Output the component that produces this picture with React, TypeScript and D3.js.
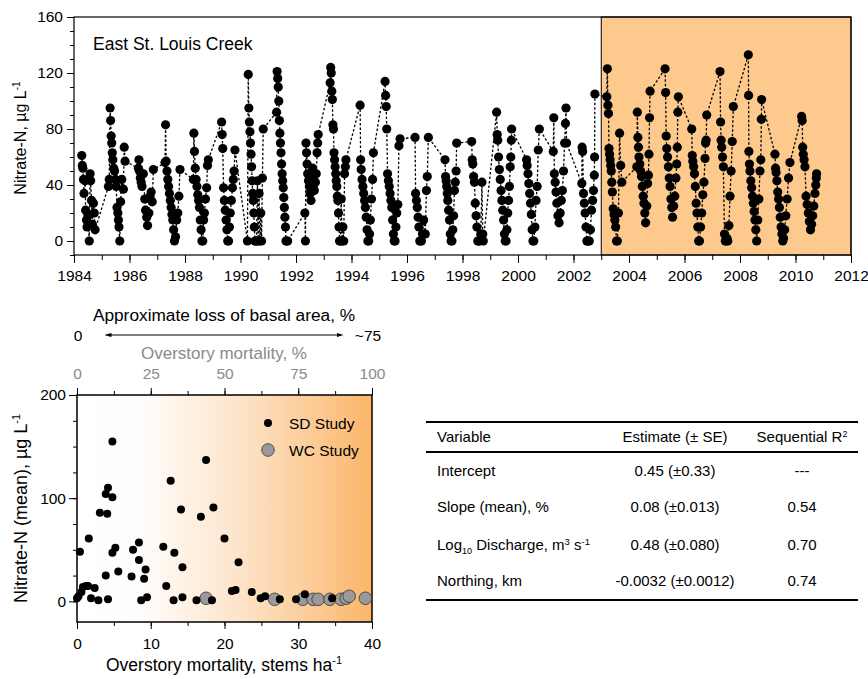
import * as d3 from "d3";
import React, { useRef, useEffect } from "react";

const FONT = '"Liberation Sans", Arial, Helvetica, sans-serif';

// East St. Louis Creek samples: [decimal year, nitrate-N ug/L]
const creekSamples: [number, number][] = [
  [1984.28, 61], [1984.30, 54], [1984.32, 52], [1984.34, 44], [1984.36, 34], [1984.40, 43], [1984.42, 22], [1984.45, 15], [1984.47, 10], [1984.50, 18], [1984.55, 0], [1984.58, 48], [1984.60, 43], [1984.63, 29], [1984.66, 12], [1984.70, 27], [1984.73, 20], [1984.76, 8],
  [1985.24, 39], [1985.27, 44], [1985.30, 95], [1985.32, 86], [1985.34, 75], [1985.36, 70], [1985.38, 63], [1985.40, 58], [1985.43, 52], [1985.46, 50], [1985.49, 44], [1985.52, 39], [1985.55, 24], [1985.58, 20], [1985.60, 15], [1985.62, 10], [1985.65, 0], [1985.68, 28], [1985.72, 44], [1985.78, 37], [1985.81, 67], [1985.84, 57],
  [1986.32, 52], [1986.34, 58], [1986.36, 50], [1986.39, 45], [1986.42, 42], [1986.45, 39], [1986.50, 48], [1986.55, 30], [1986.58, 22], [1986.62, 17], [1986.65, 11], [1986.70, 20], [1986.74, 32], [1986.78, 35], [1986.82, 28], [1986.86, 51],
  [1987.28, 56], [1987.30, 83], [1987.32, 57], [1987.35, 50], [1987.38, 44], [1987.41, 39], [1987.44, 34], [1987.47, 29], [1987.50, 24], [1987.53, 19], [1987.56, 15], [1987.59, 8], [1987.62, 0], [1987.66, 3], [1987.70, 15], [1987.74, 20], [1987.78, 32], [1987.82, 51],
  [1988.30, 44], [1988.32, 77], [1988.34, 64], [1988.37, 52], [1988.40, 44], [1988.43, 39], [1988.46, 33], [1988.49, 29], [1988.52, 24], [1988.55, 15], [1988.58, 8], [1988.61, 0], [1988.64, 0], [1988.67, 15], [1988.70, 20], [1988.74, 30], [1988.78, 38], [1988.81, 54], [1988.84, 58],
  [1989.32, 85], [1989.34, 76], [1989.36, 66], [1989.39, 38], [1989.42, 29], [1989.45, 22], [1989.48, 15], [1989.51, 8], [1989.54, 0], [1989.57, 0], [1989.60, 10], [1989.63, 20], [1989.67, 29], [1989.71, 38], [1989.74, 44], [1989.77, 50], [1989.80, 65],
  [1990.25, 0], [1990.28, 119], [1990.30, 95], [1990.32, 85], [1990.34, 78], [1990.36, 70], [1990.38, 62], [1990.40, 53], [1990.42, 43], [1990.44, 34], [1990.46, 29], [1990.48, 20], [1990.50, 10], [1990.52, 0], [1990.55, 0], [1990.58, 0], [1990.61, 43], [1990.64, 0], [1990.67, 34], [1990.70, 0], [1990.73, 20], [1990.76, 0], [1990.79, 45], [1990.82, 80],
  [1991.30, 92], [1991.32, 121], [1991.34, 116], [1991.36, 110], [1991.38, 100], [1991.40, 86], [1991.42, 77], [1991.44, 70], [1991.46, 63], [1991.48, 55], [1991.50, 48], [1991.52, 43], [1991.54, 38], [1991.56, 31], [1991.58, 24], [1991.60, 17], [1991.62, 10], [1991.64, 0], [1991.66, 0], [1991.70, 0],
  [1992.32, 20], [1992.34, 0], [1992.36, 70], [1992.38, 63], [1992.40, 55], [1992.42, 48], [1992.45, 43], [1992.48, 39], [1992.51, 34], [1992.54, 29], [1992.57, 46], [1992.60, 52], [1992.63, 40], [1992.66, 36], [1992.70, 42], [1992.73, 48], [1992.76, 63], [1992.78, 70], [1992.80, 76],
  [1993.23, 113], [1993.25, 124], [1993.27, 120], [1993.29, 107], [1993.31, 101], [1993.33, 83], [1993.35, 80], [1993.37, 63], [1993.39, 58], [1993.41, 53], [1993.43, 48], [1993.45, 43], [1993.47, 39], [1993.49, 32], [1993.51, 29], [1993.53, 20], [1993.55, 10], [1993.57, 0], [1993.60, 0], [1993.63, 30], [1993.66, 0], [1993.69, 10], [1993.72, 0], [1993.75, 48], [1993.78, 53], [1993.80, 58],
  [1994.31, 97], [1994.33, 58], [1994.35, 51], [1994.38, 44], [1994.41, 39], [1994.44, 34], [1994.47, 29], [1994.50, 24], [1994.53, 17], [1994.56, 8], [1994.59, 0], [1994.62, 0], [1994.65, 5], [1994.68, 15], [1994.72, 30], [1994.76, 44], [1994.79, 63],
  [1995.21, 114], [1995.23, 104], [1995.25, 96], [1995.27, 80], [1995.30, 48], [1995.33, 43], [1995.36, 39], [1995.39, 34], [1995.42, 29], [1995.45, 24], [1995.48, 15], [1995.51, 5], [1995.54, 0], [1995.57, 0], [1995.60, 10], [1995.63, 20], [1995.67, 26], [1995.71, 68], [1995.75, 73],
  [1996.29, 74], [1996.31, 34], [1996.34, 29], [1996.37, 24], [1996.40, 17], [1996.43, 10], [1996.46, 0], [1996.49, 0], [1996.52, 0], [1996.56, 5], [1996.60, 15], [1996.66, 5], [1996.70, 36], [1996.73, 46], [1996.77, 74],
  [1997.37, 58], [1997.39, 46], [1997.41, 43], [1997.43, 39], [1997.45, 34], [1997.47, 29], [1997.50, 22], [1997.53, 15], [1997.56, 5], [1997.59, 0], [1997.62, 0], [1997.65, 8], [1997.68, 18], [1997.71, 36], [1997.74, 42], [1997.77, 50], [1997.79, 70],
  [1998.33, 71], [1998.35, 58], [1998.37, 55], [1998.40, 46], [1998.43, 42], [1998.46, 27], [1998.49, 18], [1998.52, 10], [1998.55, 0], [1998.58, 0], [1998.62, 0], [1998.66, 5], [1998.70, 42], [1998.73, 5], [1998.75, 0],
  [1999.23, 92], [1999.25, 76], [1999.27, 72], [1999.30, 60], [1999.33, 51], [1999.36, 44], [1999.39, 36], [1999.42, 29], [1999.45, 22], [1999.48, 15], [1999.51, 5], [1999.54, 0], [1999.57, 0], [1999.60, 8], [1999.63, 20], [1999.66, 29], [1999.69, 39], [1999.72, 53], [1999.74, 60], [1999.76, 72], [1999.77, 80],
  [2000.31, 58], [2000.33, 54], [2000.36, 48], [2000.39, 41], [2000.42, 34], [2000.45, 27], [2000.48, 19], [2000.51, 8], [2000.54, 0], [2000.57, 0], [2000.61, 10], [2000.65, 29], [2000.69, 39], [2000.73, 65], [2000.77, 80],
  [2001.27, 64], [2001.29, 88], [2001.31, 48], [2001.34, 42], [2001.37, 35], [2001.40, 27], [2001.44, 18], [2001.48, 13], [2001.52, 20], [2001.56, 29], [2001.60, 36], [2001.64, 50], [2001.68, 70], [2001.71, 84], [2001.73, 95], [2001.75, 70],
  [2002.30, 41], [2002.31, 67], [2002.33, 64], [2002.36, 34], [2002.39, 27], [2002.42, 20], [2002.45, 10], [2002.48, 0], [2002.51, 0], [2002.54, 0], [2002.57, 0], [2002.61, 8], [2002.65, 22], [2002.69, 29], [2002.72, 36], [2002.75, 47], [2002.76, 60], [2002.77, 105],
  [2003.20, 103], [2003.22, 123], [2003.24, 97], [2003.26, 91], [2003.28, 66], [2003.30, 62], [2003.32, 58], [2003.34, 54], [2003.36, 50], [2003.38, 42], [2003.40, 35], [2003.43, 23], [2003.46, 19], [2003.49, 15], [2003.52, 10], [2003.55, 0], [2003.58, 0], [2003.62, 20], [2003.66, 77], [2003.70, 54], [2003.74, 42],
  [2004.28, 53], [2004.30, 92], [2004.32, 74], [2004.34, 67], [2004.36, 60], [2004.39, 55], [2004.42, 50], [2004.45, 46], [2004.48, 39], [2004.51, 32], [2004.54, 27], [2004.57, 20], [2004.60, 13], [2004.64, 25], [2004.67, 41], [2004.70, 47], [2004.72, 62], [2004.74, 88], [2004.76, 107],
  [2005.30, 123], [2005.32, 106], [2005.34, 75], [2005.36, 66], [2005.39, 60], [2005.42, 53], [2005.45, 45], [2005.48, 39], [2005.51, 30], [2005.54, 24], [2005.57, 17], [2005.61, 25], [2005.65, 32], [2005.69, 45], [2005.72, 55], [2005.74, 67], [2005.76, 92], [2005.78, 103],
  [2006.26, 80], [2006.28, 61], [2006.30, 57], [2006.33, 53], [2006.36, 48], [2006.39, 39], [2006.42, 27], [2006.45, 20], [2006.48, 10], [2006.51, 0], [2006.54, 0], [2006.58, 10], [2006.62, 20], [2006.66, 33], [2006.70, 42], [2006.74, 59], [2006.76, 70], [2006.78, 72], [2006.80, 90],
  [2007.28, 121], [2007.30, 85], [2007.32, 72], [2007.34, 67], [2007.37, 60], [2007.40, 53], [2007.44, 5], [2007.47, 0], [2007.50, 0], [2007.53, 2], [2007.56, 0], [2007.60, 11], [2007.64, 32], [2007.68, 50], [2007.72, 71], [2007.76, 96],
  [2008.30, 133], [2008.31, 104], [2008.32, 64], [2008.34, 55], [2008.36, 50], [2008.39, 43], [2008.42, 38], [2008.45, 32], [2008.48, 27], [2008.51, 21], [2008.54, 15], [2008.57, 8], [2008.60, 0], [2008.64, 15], [2008.68, 30], [2008.72, 50], [2008.75, 58], [2008.77, 87], [2008.78, 101],
  [2009.26, 62], [2009.28, 52], [2009.30, 49], [2009.33, 43], [2009.36, 35], [2009.39, 30], [2009.42, 24], [2009.45, 17], [2009.48, 10], [2009.51, 5], [2009.54, 0], [2009.57, 2], [2009.61, 8], [2009.65, 18], [2009.70, 30], [2009.75, 45], [2009.80, 56],
  [2010.22, 89], [2010.24, 86], [2010.26, 67], [2010.28, 62], [2010.31, 58], [2010.34, 53], [2010.38, 32], [2010.42, 26], [2010.46, 20], [2010.50, 14], [2010.54, 8], [2010.58, 12], [2010.62, 18], [2010.66, 25], [2010.70, 34], [2010.73, 40], [2010.75, 45], [2010.76, 48],
];

const disturbanceStart = 2003;

// bottom panel: overstory mortality (stems/ha) vs mean nitrate-N
const sdMortality = [0, 0.2, 0.4, 0.6, 0.8, 1.2, 1.5, 1.6, 1.9, 2.4, 2.9, 3.1, 3.9, 3.9, 4.1, 4.2, 4.2, 4.8, 4.8, 4.8, 5.2, 5.6, 7.4, 7.6, 8.4, 8.4, 8.7, 9.1, 9.3, 9.5, 11.7, 12.1, 12.7, 13.2, 13.1, 14.1, 14.3, 14.3, 16.2, 16.8, 17.5, 18.3, 18.5, 20.0, 21.0, 21.5, 21.9, 23.7, 24.9, 25.5, 27.5, 29.7, 30.9, 34.6];
const sdNitrate = [3, 5, 48, 9, 14, 15, 15, 61, 3, 13, 1, 86, 25, 104, 85, 110, 2, 101, 155, 47, 52, 29, 24, 50, 57, 40, 1, 22, 31, 4, 53, 15, 117, 47, 1, 89, 33, 4, 1, 82, 137, 1, 91, 61, 10, 11, 38, 9, 3, 5, 2, 2, 7, 3];
const wcMortality = [17.5, 26.8, 30.6, 32.0, 32.7, 34.3, 35.8, 36.5, 36.9, 39.1];
const wcNitrate = [3, 2, 2, 2, 2, 2, 2, 3, 5, 3];

// regression table
const tableHeader = ["Variable", "Estimate (\u00b1 SE)", "Sequential R"];
const tableVariables = ["Intercept", "Slope (mean), %", "Log10 Discharge", "Northing, km"];
const tableEstimates = ["0.45 (\u00b10.33)", "0.08 (\u00b10.013)", "0.48 (\u00b10.080)", "-0.0032 (\u00b10.0012)"];
const tableR2 = ["---", "0.54", "0.70", "0.74"];

const App: React.FC = () => {
  const svgRef = useRef<SVGSVGElement | null>(null);

  useEffect(() => {
    const svg = d3.select(svgRef.current);
    svg.selectAll("*").remove();
    svg.append("rect").attr("width", 868).attr("height", 679).attr("fill", "#fff");

    const styleAxis = (g: any, size = 15, color = "#000") => {
      g.selectAll(".domain").remove();
      g.selectAll("line").attr("stroke", "#000").attr("stroke-width", 1);
      g.selectAll("text").attr("font-family", FONT).attr("font-size", size).attr("fill", color);
    };

    // ---------- top panel ----------
    const x = d3.scaleLinear().domain([1984, 2012]).range([74, 851]);
    const y = d3.scaleLinear().domain([-10, 160]).range([255, 17]);
    const top = svg.append("g");

    top.append("rect")
      .attr("x", x(disturbanceStart)).attr("y", y(160))
      .attr("width", x(2012) - x(disturbanceStart)).attr("height", y(-10) - y(160))
      .attr("fill", "#fdc98d").attr("stroke", "#000").attr("stroke-width", 1);

    top.append("g").attr("transform", `translate(0,${y(-10)})`)
      .call(d3.axisBottom(x).tickValues(d3.range(1984, 2013, 1)).tickSize(5).tickFormat(() => ""))
      .call((g: any) => styleAxis(g));
    top.append("g").attr("transform", `translate(0,${y(-10)})`)
      .call(d3.axisBottom(x).tickValues(d3.range(1984, 2013, 2)).tickSize(8).tickPadding(7).tickFormat(d3.format("d")))
      .call((g: any) => styleAxis(g, 15.5));
    top.append("g").attr("transform", `translate(${x(1984)},0)`)
      .call(d3.axisLeft(y).tickValues(d3.range(-10, 161, 10)).tickSize(4).tickFormat(() => ""))
      .call((g: any) => styleAxis(g));
    top.append("g").attr("transform", `translate(${x(1984)},0)`)
      .call(d3.axisLeft(y).tickValues(d3.range(0, 161, 40)).tickSize(7).tickPadding(4))
      .call((g: any) => styleAxis(g, 15.5));

    top.append("rect")
      .attr("x", x(1984)).attr("y", y(160))
      .attr("width", x(2012) - x(1984)).attr("height", y(-10) - y(160))
      .attr("fill", "none").attr("stroke", "#000").attr("stroke-width", 1.2);

    const line = d3.line<[number, number]>().x(d => x(d[0])).y(d => y(d[1]));
    top.append("path").datum(creekSamples)
      .attr("d", line).attr("fill", "none")
      .attr("stroke", "#000").attr("stroke-width", 1.3).attr("stroke-dasharray", "2.5,2");
    top.append("g").selectAll("circle").data(creekSamples).enter().append("circle")
      .attr("cx", d => x(d[0])).attr("cy", d => y(d[1])).attr("r", 4.6).attr("fill", "#000");

    top.append("text").attr("x", 93).attr("y", 50)
      .attr("font-family", FONT).attr("font-size", 17.5).text("East St. Louis Creek");

    const yl = top.append("text")
      .attr("transform", `translate(26,${(y(160) + y(-10)) / 2 + 2}) rotate(-90)`)
      .attr("text-anchor", "middle").attr("font-family", FONT).attr("font-size", 16);
    yl.append("tspan").text("Nitrate-N, \u00b5g L");
    yl.append("tspan").attr("dy", -6).attr("font-size", 10).text("-1");

    // ---------- bottom panel ----------
    const bx = d3.scaleLinear().domain([0, 40]).range([77, 372]);
    const bxTop = d3.scaleLinear().domain([0, 100]).range([77, 372]);
    const by = d3.scaleLinear().domain([-20, 200]).range([622, 395]);
    const bot = svg.append("g");

    const defs = svg.append("defs");
    const grad = defs.append("linearGradient").attr("id", "mortGrad")
      .attr("x1", "0%").attr("x2", "100%").attr("y1", "0%").attr("y2", "0%");
    grad.append("stop").attr("offset", "0%").attr("stop-color", "#ffffff");
    grad.append("stop").attr("offset", "22%").attr("stop-color", "#fffdfb");
    grad.append("stop").attr("offset", "55%").attr("stop-color", "#fde4ca");
    grad.append("stop").attr("offset", "80%").attr("stop-color", "#fccb95");
    grad.append("stop").attr("offset", "100%").attr("stop-color", "#fbb568");

    const marker = (id: string, path: string) => defs.append("marker").attr("id", id)
      .attr("viewBox", "0 0 10 10").attr("refX", 5).attr("refY", 5)
      .attr("markerWidth", 7).attr("markerHeight", 7).attr("orient", "auto")
      .append("path").attr("d", path).attr("fill", "#000");
    marker("arrowEnd", "M0,2 L10,5 L0,8 Z");
    marker("arrowStart", "M10,2 L0,5 L10,8 Z");

    bot.append("rect")
      .attr("x", bx(0)).attr("y", by(200))
      .attr("width", bx(40) - bx(0)).attr("height", by(-20) - by(200))
      .attr("fill", "url(#mortGrad)");

    bot.append("g").attr("transform", `translate(0,${by(-20)})`)
      .call(d3.axisBottom(bx).tickValues(d3.range(0, 41, 5)).tickSize(4).tickFormat(() => ""))
      .call((g: any) => styleAxis(g));
    bot.append("g").attr("transform", `translate(0,${by(-20)})`)
      .call(d3.axisBottom(bx).tickValues(d3.range(0, 41, 10)).tickSize(7).tickPadding(9))
      .call((g: any) => styleAxis(g, 15.5));
    bot.append("g").attr("transform", `translate(${bx(0)},0)`)
      .call(d3.axisLeft(by).tickValues(d3.range(0, 201, 25)).tickSize(4).tickFormat(() => ""))
      .call((g: any) => styleAxis(g));
    bot.append("g").attr("transform", `translate(${bx(0)},0)`)
      .call(d3.axisLeft(by).tickValues([0, 100, 200]).tickSize(8).tickPadding(3))
      .call((g: any) => styleAxis(g, 15.5));
    bot.append("g").attr("transform", `translate(0,${by(200)})`)
      .call(d3.axisTop(bxTop).tickValues(d3.range(0, 101, 12.5)).tickSize(4).tickFormat(() => ""))
      .call((g: any) => styleAxis(g));
    bot.append("g").attr("transform", `translate(0,${by(200)})`)
      .call(d3.axisTop(bxTop).tickValues(d3.range(0, 101, 25)).tickSize(7).tickPadding(9))
      .call((g: any) => styleAxis(g, 15.5, "#8a8a8a"));

    bot.append("rect")
      .attr("x", bx(0)).attr("y", by(200))
      .attr("width", bx(40) - bx(0)).attr("height", by(-20) - by(200))
      .attr("fill", "none").attr("stroke", "#000").attr("stroke-width", 1.5);

    bot.append("g").selectAll("circle").data(wcMortality).enter().append("circle")
      .attr("cx", (d: number) => bx(d)).attr("cy", (_: number, i: number) => by(wcNitrate[i]))
      .attr("r", 6.3).attr("fill", "#9a9a9a").attr("stroke", "#333").attr("stroke-width", 0.8);
    bot.append("g").selectAll("circle").data(sdMortality).enter().append("circle")
      .attr("cx", (d: number) => bx(d)).attr("cy", (_: number, i: number) => by(sdNitrate[i]))
      .attr("r", 4).attr("fill", "#000");

    // legend
    bot.append("circle").attr("cx", 268).attr("cy", 423).attr("r", 4).attr("fill", "#000");
    bot.append("text").attr("x", 289).attr("y", 429).attr("font-family", FONT).attr("font-size", 15.5).text("SD Study");
    bot.append("circle").attr("cx", 268).attr("cy", 450).attr("r", 6.3)
      .attr("fill", "#9a9a9a").attr("stroke", "#333").attr("stroke-width", 0.8);
    bot.append("text").attr("x", 289).attr("y", 456).attr("font-family", FONT).attr("font-size", 15.5).text("WC Study");

    // bottom axis titles
    const bxl = bot.append("text").attr("x", 224).attr("y", 671)
      .attr("text-anchor", "middle").attr("font-family", FONT).attr("font-size", 17.5);
    bxl.append("tspan").text("Overstory mortality, stems ha");
    bxl.append("tspan").attr("dy", -7).attr("font-size", 11).text("-1");

    const byl = bot.append("text")
      .attr("transform", `translate(27,${(by(200) + by(-20)) / 2}) rotate(-90)`)
      .attr("text-anchor", "middle").attr("font-family", FONT).attr("font-size", 18);
    byl.append("tspan").text("Nitrate-N (mean), \u00b5g L");
    byl.append("tspan").attr("dy", -7).attr("font-size", 11).text("-1");

    bot.append("text").attr("x", 224).attr("y", 359).attr("text-anchor", "middle")
      .attr("font-family", FONT).attr("font-size", 17).attr("fill", "#8a8a8a").text("Overstory mortality, %");

    bot.append("text").attr("x", 224).attr("y", 321).attr("text-anchor", "middle")
      .attr("font-family", FONT).attr("font-size", 17.3).text("Approximate loss of basal area, %");
    bot.append("line").attr("x1", 108).attr("x2", 340).attr("y1", 335).attr("y2", 335)
      .attr("stroke", "#000").attr("stroke-width", 1)
      .attr("marker-start", "url(#arrowStart)").attr("marker-end", "url(#arrowEnd)");
    bot.append("text").attr("x", 78).attr("y", 341).attr("text-anchor", "middle")
      .attr("font-family", FONT).attr("font-size", 15.5).text("0");
    bot.append("text").attr("x", 368).attr("y", 341).attr("text-anchor", "middle")
      .attr("font-family", FONT).attr("font-size", 15.5).text("~75");

    // ---------- table ----------
    const tb = svg.append("g").attr("font-family", FONT).attr("font-size", 15);
    const tx0 = 426, tx1 = 858;
    [422, 452, 600].forEach(yy => {
      tb.append("line").attr("x1", tx0).attr("x2", tx1).attr("y1", yy).attr("y2", yy)
        .attr("stroke", "#000").attr("stroke-width", 1.8);
    });
    const colX = [437, 675, 802];
    tb.append("text").attr("x", colX[0]).attr("y", 442).text(tableHeader[0]);
    tb.append("text").attr("x", colX[1]).attr("y", 442).attr("text-anchor", "middle").text(tableHeader[1]);
    const r2h = tb.append("text").attr("x", colX[2]).attr("y", 442).attr("text-anchor", "middle");
    r2h.append("tspan").text(tableHeader[2]);
    r2h.append("tspan").attr("dy", -5).attr("font-size", 9).text("2");

    const rowY = [476, 512, 550, 586];
    tableVariables.forEach((v, i) => {
      const t = tb.append("text").attr("x", colX[0]).attr("y", rowY[i]);
      if (v.startsWith("Log10")) {
        t.append("tspan").text("Log");
        t.append("tspan").attr("dy", 4).attr("font-size", 9).text("10");
        t.append("tspan").attr("dy", -4).text(" Discharge, m");
        t.append("tspan").attr("dy", -5).attr("font-size", 9.5).text("3");
        t.append("tspan").attr("dy", 5).text(" s");
        t.append("tspan").attr("dy", -5).attr("font-size", 9.5).text("-1");
      } else {
        t.text(v);
      }
      tb.append("text").attr("x", colX[1]).attr("y", rowY[i]).attr("text-anchor", "middle").text(tableEstimates[i]);
      tb.append("text").attr("x", colX[2]).attr("y", rowY[i]).attr("text-anchor", "middle").text(tableR2[i]);
    });
  }, []);

  return (
    <svg ref={svgRef} width={868} height={679}
      style={{ position: "absolute", left: 0, top: 0, display: "block" }} />
  );
};

export default App;
